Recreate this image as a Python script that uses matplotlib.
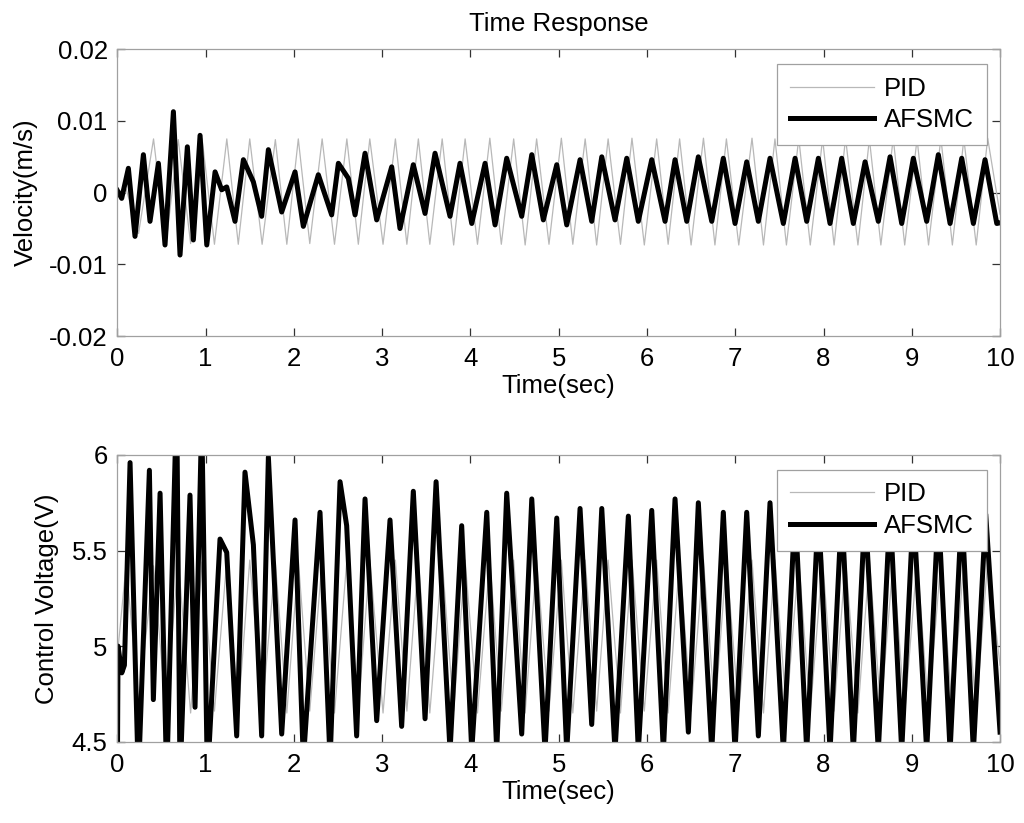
import matplotlib
matplotlib.use("Agg")
import matplotlib.pyplot as plt
import numpy as np

plt.rcParams['font.family'] = ['Liberation Sans', 'DejaVu Sans']

# ---------------- data ----------------
# Velocity, AFSMC: turning points (time s, value m/s)
vel_afsmc_t = [0.0, 0.049, 0.125, 0.200, 0.295, 0.370, 0.465, 0.540, 0.635, 0.710,
               0.793, 0.861, 0.937, 1.013, 1.107, 1.182, 1.239, 1.333, 1.428, 1.541,
               1.635, 1.711, 1.862, 2.013, 2.107, 2.277, 2.428, 2.504, 2.617, 2.693,
               2.806, 2.938, 3.108, 3.202, 3.353, 3.486, 3.599, 3.769, 3.882, 4.015,
               4.166, 4.279, 4.411, 4.581, 4.695, 4.826, 4.978, 5.091, 5.242, 5.374,
               5.488, 5.638, 5.771, 5.902, 6.054, 6.205, 6.318, 6.451, 6.582, 6.734,
               6.865, 6.998, 7.130, 7.262, 7.394, 7.545, 7.678, 7.810, 7.942, 8.074,
               8.206, 8.338, 8.471, 8.621, 8.754, 8.886, 9.018, 9.169, 9.301, 9.434,
               9.566, 9.698, 9.830, 9.963, 10.0]
vel_afsmc = [0.0003, -0.0008, 0.0034, -0.0061, 0.0053, -0.0040, 0.0041, -0.0073, 0.0113, -0.0087,
             0.0064, -0.0066, 0.0080, -0.0073, 0.0029, 0.0004, 0.0008, -0.0040, 0.0046, 0.0015,
             -0.0033, 0.0060, -0.0027, 0.0029, -0.0047, 0.0025, -0.0031, 0.0041, 0.0020, -0.0031,
             0.0055, -0.0038, 0.0036, -0.0050, 0.0039, -0.0029, 0.0055, -0.0033, 0.0041, -0.0043,
             0.0041, -0.0045, 0.0048, -0.0033, 0.0053, -0.0038, 0.0039, -0.0045, 0.0046, -0.0040,
             0.0050, -0.0038, 0.0048, -0.0040, 0.0046, -0.0040, 0.0046, -0.0040, 0.0050, -0.0040,
             0.0048, -0.0043, 0.0043, -0.0040, 0.0048, -0.0043, 0.0048, -0.0040, 0.0048, -0.0043,
             0.0048, -0.0043, 0.0043, -0.0040, 0.0050, -0.0043, 0.0048, -0.0040, 0.0053, -0.0043,
             0.0048, -0.0043, 0.0046, -0.0043, -0.0042]

# Velocity / voltage, PID: turning-point times
pid_t = [0.0, 0.10, 0.24, 0.41, 0.55, 0.69, 0.83, 0.96, 1.10, 1.24,
         1.37, 1.50, 1.64, 1.79, 1.92, 2.05, 2.18, 2.32, 2.46, 2.60,
         2.73, 2.86, 3.01, 3.15, 3.28, 3.41, 3.54, 3.68, 3.81, 3.94,
         4.08, 4.22, 4.35, 4.49, 4.62, 4.75, 4.89, 5.03, 5.16, 5.30,
         5.43, 5.56, 5.70, 5.83, 5.97, 6.11, 6.24, 6.37, 6.50, 6.64,
         6.77, 6.90, 7.04, 7.19, 7.32, 7.45, 7.58, 7.72, 7.85, 7.99,
         8.12, 8.25, 8.39, 8.52, 8.65, 8.79, 8.92, 9.06, 9.19, 9.33,
         9.46, 9.59, 9.73, 9.86, 10.0]
vel_pid = [0.0, 0.0005, -0.0057, 0.0075, -0.0072, 0.0074, -0.0071, 0.0075, -0.0072, 0.0075,
           -0.0072, 0.0075, -0.0072, 0.0074, -0.0072, 0.0075, -0.0071, 0.0075, -0.0072, 0.0075,
           -0.0072, 0.0075, -0.0072, 0.0075, -0.0072, 0.0075, -0.0072, 0.0075, -0.0073, 0.0075,
           -0.0072, 0.0076, -0.0072, 0.0075, -0.0073, 0.0075, -0.0072, 0.0076, -0.0072, 0.0075,
           -0.0073, 0.0075, -0.0072, 0.0076, -0.0073, 0.0075, -0.0072, 0.0075, -0.0073, 0.0076,
           -0.0073, 0.0075, -0.0073, 0.0076, -0.0073, 0.0075, -0.0073, 0.0076, -0.0073, 0.0075,
           -0.0073, 0.0076, -0.0073, 0.0075, -0.0073, 0.0076, -0.0073, 0.0075, -0.0073, 0.0076,
           -0.0073, 0.0075, -0.0073, 0.0076, -0.0030]
volt_pid = [4.95, 5.43, 4.70, 5.42, 4.66, 5.45, 4.65, 5.44, 4.66, 5.45,
            4.65, 5.45, 4.66, 5.44, 4.65, 5.45, 4.66, 5.45, 4.65, 5.45,
            4.66, 5.45, 4.65, 5.45, 4.66, 5.45, 4.65, 5.45, 4.66, 5.45,
            4.65, 5.45, 4.66, 5.45, 4.65, 5.45, 4.66, 5.45, 4.65, 5.45,
            4.66, 5.45, 4.65, 5.45, 4.66, 5.45, 4.65, 5.45, 4.66, 5.45,
            4.65, 5.45, 4.66, 5.45, 4.65, 5.45, 4.66, 5.45, 4.65, 5.45,
            4.66, 5.45, 4.65, 5.45, 4.66, 5.45, 4.65, 5.45, 4.66, 5.45,
            4.65, 5.45, 4.66, 5.45, 4.90]

# Control voltage, AFSMC: turning points (time s, value V)
volt_afsmc_t = [0.0, 0.008, 0.050, 0.080, 0.144, 0.238, 0.363, 0.408, 0.484, 0.559,
                0.672, 0.710, 0.823, 0.880, 0.956, 1.020, 1.163, 1.239, 1.352, 1.446,
                1.541, 1.635, 1.711, 1.862, 2.013, 2.107, 2.296, 2.410, 2.523, 2.598,
                2.711, 2.806, 2.938, 3.089, 3.221, 3.353, 3.486, 3.611, 3.769, 3.901,
                4.015, 4.185, 4.298, 4.411, 4.581, 4.695, 4.845, 4.978, 5.091, 5.242,
                5.374, 5.488, 5.638, 5.789, 5.902, 6.054, 6.186, 6.318, 6.469, 6.582,
                6.734, 6.865, 6.998, 7.130, 7.262, 7.394, 7.545, 7.678, 7.810, 7.942,
                8.074, 8.206, 8.338, 8.471, 8.621, 8.754, 8.886, 9.018, 9.169, 9.301,
                9.434, 9.566, 9.698, 9.838, 10.0]
volt_afsmc = [4.30, 5.00, 4.86, 4.90, 5.96, 4.30, 5.92, 4.72, 5.80, 4.30,
              6.30, 4.30, 5.79, 4.68, 6.20, 4.30, 5.56, 5.49, 4.53, 5.91,
              5.53, 4.53, 5.99, 4.54, 5.66, 4.40, 5.70, 4.40, 5.86, 5.63,
              4.53, 5.77, 4.61, 5.66, 4.58, 5.81, 4.62, 5.86, 4.45, 5.63,
              4.45, 5.70, 4.45, 5.80, 4.54, 5.77, 4.45, 5.67, 4.45, 5.72,
              4.59, 5.72, 4.45, 5.68, 4.45, 5.71, 4.45, 5.77, 4.55, 5.75,
              4.45, 5.70, 4.45, 5.70, 4.53, 5.75, 4.45, 5.72, 4.45, 5.72,
              4.45, 5.72, 4.45, 5.72, 4.45, 5.72, 4.45, 5.72, 4.45, 5.72,
              4.45, 5.72, 4.45, 5.69, 4.55]

x_ticks = [0, 1, 2, 3, 4, 5, 6, 7, 8, 9, 10]
vel_ticks = [-0.02, -0.01, 0, 0.01, 0.02]
vel_ticklabels = ['-0.02', '-0.01', '0', '0.01', '0.02']
volt_ticks = [4.5, 5, 5.5, 6]
volt_ticklabels = ['4.5', '5', '5.5', '6']

# ---------------- figure ----------------
FS = 18.5
fig = plt.figure(figsize=(10.24, 8.23), dpi=100)
ax1 = fig.add_axes([0.1146, 0.5917, 0.862, 0.3484])
ax2 = fig.add_axes([0.1146, 0.0988, 0.862, 0.3484])

GRAY = '#b8b8b8'
BLACK_LW = 3.6

def style(ax):
    for s in ax.spines.values():
        s.set_color('#a0a0a0')
        s.set_linewidth(0.9)
    ax.tick_params(direction='in', length=6, width=0.9, colors='#333333',
                   top=True, right=True, labelsize=FS, pad=7)
    ax.tick_params(axis='x', pad=8)
    for lab in ax.get_xticklabels() + ax.get_yticklabels():
        lab.set_color('black')
    ax.set_xlim(0, 10)
    ax.set_xticks(x_ticks)
    ax.set_xticklabels([str(v) for v in x_ticks])

ax1.plot(pid_t, vel_pid, color=GRAY, lw=0.9, label='PID')
ax1.plot(vel_afsmc_t, vel_afsmc, color='black', lw=BLACK_LW, label='AFSMC')
ax1.set_ylim(-0.02, 0.02)
ax1.set_yticks(vel_ticks)
ax1.set_yticklabels(vel_ticklabels)
style(ax1)
ax1.set_xlabel('Time(sec)', fontsize=FS, labelpad=2)
ax1.set_ylabel('Velocity(m/s)', fontsize=FS, labelpad=8)
ax1.set_title('Time Response', fontsize=FS, pad=13)

ax2.plot(pid_t, volt_pid, color=GRAY, lw=0.9, label='PID')
ax2.plot(volt_afsmc_t, volt_afsmc, color='black', lw=BLACK_LW, label='AFSMC')
ax2.set_ylim(4.5, 6)
ax2.set_yticks(volt_ticks)
ax2.set_yticklabels(volt_ticklabels)
style(ax2)
ax2.set_xlabel('Time(sec)', fontsize=FS, labelpad=2)
ax2.set_ylabel('Control Voltage(V)', fontsize=FS, labelpad=9)

for ax in (ax1, ax2):
    leg = ax.legend(loc='upper right', bbox_to_anchor=(0.985, 0.949), borderaxespad=0,
                    fontsize=FS, frameon=True, fancybox=False, framealpha=1,
                    edgecolor='#a0a0a0', handlelength=3.25, handletextpad=0.4,
                    borderpad=0.5, labelspacing=0.3)
    leg.get_frame().set_linewidth(0.9)

fig.savefig('out.png', dpi=100)
